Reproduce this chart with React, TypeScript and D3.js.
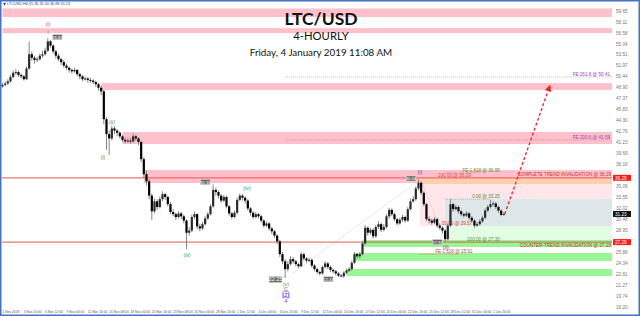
import React from "react";
import * as d3 from "d3";

// ---------- data ----------
const timeLabels = ["1 Nov 2018","3 Nov 20:00","6 Nov 12:00","9 Nov 04:00","12 Nov 16:00","15 Nov 08:00","18 Nov 00:00","20 Nov 16:00","23 Nov 08:00","26 Nov 04:00","28 Nov 20:00","1 Dec 12:00","4 Dec 04:00","6 Dec 20:00","9 Dec 12:00","12 Dec 04:00","14 Dec 20:00","17 Dec 12:00","20 Dec 04:00","22 Dec 20:00","25 Dec 12:00","28 Dec 12:00","31 Dec 04:00","2 Jan 20:00"];
const barsPerLabel = 8;

const yTickValues = [59.65,58.11,56.58,55.04,53.51,51.97,50.44,48.90,47.37,45.83,44.30,42.76,41.23,39.69,38.16,36.62,35.09,33.55,32.02,30.48,28.95,27.41,25.88,24.34,22.81,21.27,19.74,18.20];

const firstOpen = 49.1;
const closes = [49.3,49.5,49.8,50.4,51.0,51.1,50.7,50.5,50.1,51.6,53.6,53.1,52.8,52.9,53.4,53.6,54.1,55.4,54.8,54.0,53.4,52.9,52.5,52.0,51.7,51.4,51.2,51.4,50.8,50.5,50.1,50.2,50.0,49.9,49.7,49.4,48.9,48.4,44.5,42.4,41.8,43.2,42.9,42.6,42.1,41.6,41.4,41.5,41.4,42.1,41.8,41.3,38.9,36.8,35.8,33.8,31.6,33.0,32.2,33.3,34.0,33.6,32.6,31.5,31.2,30.8,31.3,30.9,30.3,28.6,28.9,30.8,31.2,29.5,29.2,29.8,30.6,31.2,32.3,34.6,34.3,33.8,33.1,33.6,32.3,31.3,30.8,31.4,33.2,33.8,33.5,33.1,32.0,31.4,30.8,31.2,30.9,30.3,29.6,29.9,29.2,28.8,28.2,27.4,25.6,24.6,23.5,24.2,24.9,24.6,24.2,23.9,25.6,25.0,24.7,24.8,24.0,23.5,23.1,22.9,23.8,24.3,23.8,23.4,23.2,22.9,22.6,22.5,23.0,23.3,23.5,24.4,25.6,25.3,25.6,27.1,29.3,28.6,29.0,28.1,29.4,29.8,29.0,29.4,30.9,31.8,31.2,30.5,29.9,30.4,30.8,30.3,31.9,33.0,33.3,34.8,35.6,34.2,32.6,30.5,30.3,30.0,30.5,29.6,29.3,28.9,27.7,29.6,32.6,31.9,32.2,31.6,31.2,31.0,31.3,30.7,30.3,29.6,29.8,30.2,30.7,31.7,32.2,32.6,32.7,32.2,31.7,31.1,31.23];
const highs = [49.6,49.8,50.1,50.7,51.3,51.5,51.3,50.9,50.7,51.9,55.4,54.0,53.4,53.2,53.7,54.1,54.5,55.83,55.6,55.0,54.2,53.7,53.1,52.8,52.3,51.9,51.6,51.7,51.5,51.0,50.7,50.5,50.4,50.3,50.1,49.9,49.6,49.2,48.6,44.8,42.9,43.6,43.5,43.1,42.8,42.3,41.9,41.8,41.9,42.5,42.3,42.0,41.5,39.2,37.3,36.1,34.1,33.4,33.3,33.7,34.4,34.2,33.8,32.9,31.9,31.4,31.6,31.5,31.1,30.5,29.4,31.1,31.6,31.3,29.8,30.1,30.9,31.5,32.6,35.36,34.9,34.5,34.0,33.9,33.8,32.5,31.5,31.7,33.5,34.1,34.0,33.7,33.3,32.2,31.6,31.5,31.4,31.1,30.5,30.2,30.1,29.4,29.0,28.4,27.6,25.9,24.9,24.6,25.3,25.2,24.8,24.4,25.9,25.8,25.2,25.1,25.0,24.2,23.7,23.3,24.0,24.6,24.5,24.0,23.6,23.4,23.1,22.8,23.2,23.6,23.8,24.7,25.9,25.8,25.9,27.4,29.7,29.5,29.3,29.2,29.7,30.2,30.0,29.8,31.2,32.1,32.0,31.4,30.7,30.7,31.1,31.0,32.2,33.4,33.7,35.1,36.06,35.8,34.4,32.8,30.9,30.6,30.8,30.7,29.9,29.5,29.1,29.9,33.3,32.8,32.5,32.4,31.8,31.4,31.6,31.5,30.9,30.5,30.1,30.5,31.0,32.0,32.5,33.2,33.0,32.9,32.4,31.9,31.5];
const lows = [48.9,49.1,49.3,49.6,50.2,50.7,50.4,50.2,49.9,50.0,51.4,52.7,52.3,52.5,52.7,53.1,53.4,53.9,54.5,53.7,53.0,52.6,52.1,51.7,51.4,51.0,50.9,51.0,50.5,50.1,49.8,49.9,49.6,49.6,49.4,49.0,48.5,47.9,43.8,40.2,39.5,41.5,42.4,42.1,41.8,41.3,41.1,41.2,41.1,41.2,41.5,40.9,38.5,36.3,35.2,33.3,30.4,31.3,31.8,32.0,33.0,33.2,32.3,31.2,30.9,30.4,30.6,30.5,29.9,26.3,28.2,28.7,30.5,29.1,28.8,29.0,29.6,30.4,31.0,32.1,33.8,33.4,32.8,32.9,32.0,31.0,30.5,30.6,31.2,33.0,33.1,32.7,31.7,31.0,30.5,30.6,30.6,30.0,29.3,29.4,28.9,28.4,27.9,27.0,25.2,24.2,22.26,23.2,24.0,24.3,23.9,23.6,23.8,24.7,24.4,24.5,23.7,23.2,22.8,22.6,22.7,23.6,23.5,23.1,22.9,22.6,22.4,22.43,22.3,22.8,23.1,23.3,24.2,25.0,25.0,25.4,26.9,28.2,28.3,27.8,27.9,29.1,28.7,28.8,29.2,30.6,30.9,30.2,29.6,29.7,30.1,30.0,30.1,31.7,32.8,33.1,34.5,33.9,32.3,30.2,29.9,29.7,29.8,29.3,29.0,28.5,27.34,27.5,29.4,31.5,31.7,31.3,30.9,30.7,30.8,30.4,30.0,29.3,29.4,29.6,30.0,30.5,31.5,32.0,32.3,31.9,31.4,30.9,30.98];

// zones: start bar, top price, bottom price
const pinkZones = [
  { start: 0, top: 60.0, bottom: 58.8 },
  { start: 0, top: 57.25, bottom: 56.55 },
  { start: 37, top: 49.55, bottom: 48.6 },
  { start: 45, top: 42.7, bottom: 41.02 },
  { start: 53, top: 37.38, bottom: 35.56 },
];
const greenZones = [
  { start: 135, top: 27.58, bottom: 26.6 },
  { start: 132, top: 25.76, bottom: 24.64 },
  { start: 129, top: 23.52, bottom: 22.54 },
];
const invalidation = { complete: 36.29, counter: 27.29 };
const lastPrice = 31.23;
const feTargets = [
  { label: "FE 261.8 @ 50.41", price: 50.41, start: 106 },
  { label: "FE 200.0 @ 41.59", price: 41.59, start: 106 },
];
const priceBoxes = [
  { bar: 20.6, price: 56.0, text: "55.83", big: false },
  { bar: 76.1, price: 35.7, text: "35.36", big: false },
  { bar: 153.2, price: 36.2, text: "36.06", big: false },
  { bar: 102.4, price: 22.05, text: "22.25", big: true },
  { bar: 122.2, price: 22.1, text: "22.43", big: false },
  { bar: 163.1, price: 27.3, text: "27.34", big: false },
];
const waveLabels = [
  { bar: 17.1, price: 57.8, text: "(i)", color: "#e8413c" },
  { bar: 17.1, price: 56.75, text: "i", color: "#3c9a3c" },
  { bar: 37.7, price: 39.2, text: "(i)", color: "#3c9a3c" },
  { bar: 41.1, price: 44.1, text: "(ii)", color: "#3c9a3c" },
  { bar: 69.2, price: 25.5, text: "(iii)", color: "#3c9a3c" },
  { bar: 91.7, price: 34.9, text: "(iv)", color: "#3c9a3c" },
  { bar: 106.3, price: 21.4, text: "(v)", color: "#3c9a3c" },
  { bar: 106.3, price: 20.7, text: "C", color: "#e8413c" },
  { bar: 106.3, price: 19.9, text: "(Z)", color: "#3a3af0" },
  { bar: 106.3, price: 19.05, text: "4", color: "#8a2aa0" },
  { bar: 156.5, price: 37.1, text: "(i)", color: "#8a2aa0" },
  { bar: 166.3, price: 26.6, text: "(ii)", color: "#8a2aa0" },
];

export default function App() {
  const R = 612;
  const x = d3.scaleLinear().domain([0, closes.length - 1]).range([2.5, 503.8]);
  const y = d3.scaleLinear().domain([18.2, 59.65]).range([307, 11]);
  const opens = closes.map((c, i) => (i === 0 ? firstOpen : closes[i - 1]));
  const last = closes.length - 1;

  const arrowStart: [number, number] = [x(last) + 1, y(lastPrice)];
  const arrowEnd: [number, number] = [x(last + 17.2), y(49.1)];
  const ang = Math.atan2(arrowEnd[1] - arrowStart[1], arrowEnd[0] - arrowStart[0]);
  const ah = 7, aw = 3.2;
  const tip = [arrowEnd[0] + Math.cos(ang) * 2, arrowEnd[1] + Math.sin(ang) * 2];
  const base = [tip[0] - Math.cos(ang) * ah, tip[1] - Math.sin(ang) * ah];
  const headPts = [
    tip,
    [base[0] + Math.sin(ang) * aw, base[1] - Math.cos(ang) * aw],
    [base[0] - Math.sin(ang) * aw, base[1] + Math.cos(ang) * aw],
  ].map((p) => p.join(",")).join(" ");

  const tiny = { fontFamily: "Arial, 'Liberation Sans', sans-serif", fontSize: 4.6 };
  const boxPrices = [invalidation.complete, lastPrice, invalidation.counter];
  const visibleTicks = yTickValues.filter((v) => boxPrices.every((b) => Math.abs(y(v) - y(b)) > 4.5));

  return (
    <svg width={640} height={316} style={{ position: "absolute", left: 0, top: 0, background: "#fff" }}>
      <rect x={0} y={0} width={640} height={316} fill="#fff" />

      {/* pink resistance zones */}
      {pinkZones.map((z, i) => (
        <rect key={"p" + i} x={x(z.start)} y={y(z.top)} width={R - x(z.start)} height={y(z.bottom) - y(z.top)} fill="#ffc0cb" />
      ))}
      <rect x={x(156.5)} y={y(invalidation.complete)} width={R - x(156.5)} height={y(35.42) - y(invalidation.complete)} fill="#ffcfae" />
      <rect x={x(156.5)} y={y(35.42)} width={R - x(156.5)} height={y(29.55) - y(35.42)} fill="#ffe6ea" />
      <rect x={x(166)} y={y(33.3)} width={R - x(166)} height={y(29.55) - y(33.3)} fill="#dde7ea" />
      <rect x={x(166)} y={y(29.55)} width={R - x(166)} height={y(27.58) - y(29.55)} fill="#e2fde2" />
      {greenZones.map((z, i) => (
        <rect key={"g" + i} x={x(z.start)} y={y(z.top)} width={R - x(z.start)} height={y(z.bottom) - y(z.top)} fill="#98f598" />
      ))}

      {/* invalidation lines */}
      <line x1={2} x2={R} y1={y(invalidation.complete)} y2={y(invalidation.complete)} stroke="#f05a5a" strokeWidth={1.3} opacity={0.85} />
      <line x1={2} x2={R} y1={y(invalidation.counter)} y2={y(invalidation.counter)} stroke="#e05a4a" strokeWidth={1.3} opacity={0.8} />

      {/* FE target dotted lines */}
      {feTargets.map((f, i) => (
        <g key={"fe" + i}>
          <line x1={x(f.start)} x2={R} y1={y(f.price)} y2={y(f.price)} stroke="#b070c0" strokeWidth={0.6} strokeDasharray="1,1" />
          <text x={R - 2} y={y(f.price) - 1} textAnchor="end" fill="#9a3fb0" style={tiny}>{f.label}</text>
        </g>
      ))}

      {/* fib details */}
      <line x1={x(166)} x2={x(179)} y1={y(37.0)} y2={y(37.0)} stroke="#6aaa4a" strokeWidth={0.6} strokeDasharray="1,1" />
      <text x={x(186.5)} y={y(37.0) - 0.6} textAnchor="end" fill="#4f8f2f" style={tiny}>FE 1.618 @ 36.95</text>
      <text x={x(163.3)} y={y(36.3) - 0.8} fill="#e04040" style={tiny}>100.00 @ 36.29</text>
      <line x1={x(166)} x2={x(183)} y1={y(33.3)} y2={y(33.3)} stroke="#6aaa4a" strokeWidth={0.6} strokeDasharray="1,1" />
      <text x={x(186.5)} y={y(33.3) - 1} textAnchor="end" fill="#4f8f2f" style={tiny}>0.00 @ 33.25</text>
      <text x={x(164.8)} y={y(29.7)} fill="#e04040" style={tiny}>50.00 @ 29.57</text>
      <text x={x(186.5)} y={y(27.5)} textAnchor="end" fill="#4f8f2f" style={tiny}>100.00 @ 27.30</text>
      <line x1={x(156.5)} x2={x(171)} y1={y(25.62)} y2={y(25.62)} stroke="#e06060" strokeWidth={0.6} strokeDasharray="1,1" />
      <text x={x(162.3)} y={y(25.62) - 0.8} fill="#e04040" style={tiny}>FE 1.618 @ 25.62</text>
      <text x={R - 1} y={y(invalidation.complete) - 1.6} textAnchor="end" fill="#c0392b" style={tiny}>COMPLETE TREND INVALIDATION @ 36.29</text>
      <text x={R - 1} y={y(invalidation.counter) + 4.8} textAnchor="end" fill="#c0392b" style={tiny}>COUNTER-TREND INVALIDATION @ 27.29</text>

      {/* dotted trendlines */}
      <line x1={x(109)} y1={y(23.0)} x2={x(155.5)} y2={y(35.7)} stroke="#b0b0b0" strokeWidth={0.6} strokeDasharray="1,1" />
      <line x1={x(157)} y1={y(35.9)} x2={x(166)} y2={y(27.5)} stroke="#b0b0b0" strokeWidth={0.6} strokeDasharray="1,1" />

      {/* candles */}
      {closes.map((c, i) => {
        const o = opens[i];
        const cx = x(i);
        const top = y(Math.max(o, c));
        const bot = y(Math.min(o, c));
        return (
          <g key={"c" + i}>
            <line x1={cx} x2={cx} y1={y(highs[i])} y2={y(lows[i])} stroke="#777" strokeWidth={0.9} />
            <rect x={cx - 1.1} y={top} width={2.2} height={Math.max(1, bot - top)} fill={c >= o ? "#2a2a2a" : "#000"} />
          </g>
        );
      })}

      {/* price boxes */}
      {priceBoxes.map((b, i) => {
        const w = b.big ? 13 : 9.5;
        const h = b.big ? 6 : 5;
        return (
          <g key={"b" + i}>
            <rect x={x(b.bar) - w / 2} y={y(b.price) - h / 2} width={w} height={h} fill="#6a6a6a" stroke="#e0e0e0" strokeWidth={0.4} />
            <text x={x(b.bar)} y={y(b.price) + (b.big ? 1.9 : 1.5)} textAnchor="middle" fill="#fff" style={{ ...tiny, fontSize: b.big ? 5.4 : 4.2 }}>{b.text}</text>
          </g>
        );
      })}

      {/* wave labels */}
      {waveLabels.map((w, i) => (
        <g key={"w" + i}>
          {w.text === "(Z)" && (
            <rect x={x(w.bar) - 3} y={y(w.price) - 3} width={6} height={6} fill="none" stroke={w.color} strokeWidth={0.5} />
          )}
          <text x={x(w.bar)} y={y(w.price) + 2} textAnchor="middle" fill={w.color} style={{ ...tiny, fontSize: 5.4 }}>{w.text}</text>
        </g>
      ))}

      {/* projection arrow */}
      <line x1={arrowStart[0]} y1={arrowStart[1]} x2={base[0]} y2={base[1]} stroke="#f02020" strokeWidth={1.3} strokeDasharray="3,2.2" />
      <polygon points={headPts} fill="#f02020" />

      {/* titles */}
      <text x={321} y={25} textAnchor="middle" fontFamily="Lato, 'Open Sans', sans-serif" fontWeight={700} fontSize={17.5} fill="#111">LTC/USD</text>
      <text x={321} y={40} textAnchor="middle" fontFamily="Lato, 'Open Sans', sans-serif" fontSize={11.3} fill="#111">4-HOURLY</text>
      <text x={321} y={55.5} textAnchor="middle" fontFamily="Lato, 'Open Sans', sans-serif" fontSize={9.8} fill="#111">Friday, 4 January 2019 11:08 AM</text>

      {/* header */}
      <polygon points="3,3 6,3 4.5,5.5" fill="#333" />
      <text x={7} y={5.2} fill="#444" style={{ ...tiny, fontSize: 3.8 }}>LTCUSD,H4  31.36 31.50 30.98 31.23</text>

      {/* right axis */}
      {visibleTicks.map((v, i) => (
        <text key={"yt" + i} x={616} y={y(v) + 1.6} fill="#777" style={tiny}>{v.toFixed(2)}</text>
      ))}
      <rect x={613} y={y(invalidation.complete) - 3} width={18} height={6} fill="#ff1a1a" />
      <text x={615} y={y(invalidation.complete) + 1.7} fill="#fff" style={tiny}>{invalidation.complete.toFixed(2)}</text>
      <rect x={613} y={y(lastPrice) - 3} width={18} height={6} fill="#111" />
      <text x={615} y={y(lastPrice) + 1.7} fill="#fff" style={tiny}>{lastPrice.toFixed(2)}</text>
      <rect x={613} y={y(invalidation.counter) - 3} width={18} height={6} fill="#ff1a1a" />
      <text x={615} y={y(invalidation.counter) + 1.7} fill="#fff" style={tiny}>{invalidation.counter.toFixed(2)}</text>

      {/* bottom axis */}
      {timeLabels.map((t, i) => (
        <text key={"tl" + i} x={x(i * barsPerLabel)} y={312.5} fill="#555" style={{ ...tiny, fontSize: 3.3 }}>{t}</text>
      ))}

      {/* blue frame */}
      <rect x={0.75} y={0.75} width={638.5} height={314.5} fill="none" stroke="#4472c4" strokeWidth={1.5} />
    </svg>
  );
}
